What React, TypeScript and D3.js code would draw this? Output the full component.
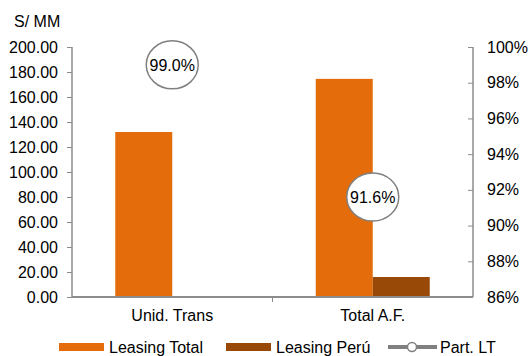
import React, { useRef, useEffect } from 'react';
import { select, scaleLinear, scaleBand, axisLeft, axisRight } from 'd3';

const categories = ['Unid. Trans', 'Total A.F.'];
const leasingTotal = [132, 174.5];
const leasingPeru = [0.8, 16];
const partLT = [99.0, 91.6];
const leftTicks = [0, 20, 40, 60, 80, 100, 120, 140, 160, 180, 200];
const rightTicks = [86, 88, 90, 92, 94, 96, 98, 100];

const W = 529;
const H = 356;
const margin = { top: 47, right: 56, bottom: 59, left: 72 };
const font = '"Liberation Sans", Arial, sans-serif';
const fs = 16;
const axisColor = '#8c8c8c';

const App = () => {
  const svgRef = useRef(null);

  useEffect(() => {
    const svgEl = select(svgRef.current);
    svgEl.selectAll('*').remove();

    const innerW = W - margin.left - margin.right;
    const innerH = H - margin.top - margin.bottom;
    const svg = svgEl.append('g').attr('transform', `translate(${margin.left}, ${margin.top})`);

    const x = scaleBand().domain(categories).range([0, innerW]);
    const yLeft = scaleLinear().domain([0, 200]).range([innerH, 0]);
    const yRight = scaleLinear().domain([86, 100]).range([innerH, 0]);
    const barW = 57;

    // bars
    categories.forEach((c, i) => {
      const cx = x(c) + x.bandwidth() / 2;
      svg.append('rect')
        .attr('x', cx - barW).attr('width', barW)
        .attr('y', yLeft(leasingTotal[i])).attr('height', innerH - yLeft(leasingTotal[i]))
        .attr('fill', '#e46c0a');
      svg.append('rect')
        .attr('x', cx).attr('width', barW)
        .attr('y', yLeft(leasingPeru[i])).attr('height', innerH - yLeft(leasingPeru[i]))
        .attr('fill', '#984807');
    });

    // left axis
    const leftG = svg.append('g').call(axisLeft(yLeft).tickValues(leftTicks).tickSize(5).tickPadding(9).tickFormat(d => d.toFixed(2)));
    leftG.select('.domain').attr('stroke', axisColor).attr('stroke-width', 1.5).attr('d', `M0,0V${innerH}`);
    leftG.selectAll('line').attr('stroke', axisColor);
    leftG.selectAll('text').attr('font-family', font).attr('font-size', fs).attr('fill', '#000');

    // right axis (ticks inward)
    const rightG = svg.append('g').attr('transform', `translate(${innerW},0)`)
      .call(axisRight(yRight).tickValues(rightTicks).tickSize(-5).tickPadding(14).tickFormat(d => `${d}%`));
    rightG.select('.domain').attr('stroke', axisColor).attr('stroke-width', 1.5).attr('d', `M0,0V${innerH}`);
    rightG.selectAll('line').attr('stroke', axisColor);
    rightG.selectAll('text').attr('font-family', font).attr('font-size', fs).attr('fill', '#000');

    // bottom axis
    svg.append('line').attr('x1', 0).attr('x2', innerW).attr('y1', innerH).attr('y2', innerH)
      .attr('stroke', axisColor).attr('stroke-width', 2);
    svg.append('line').attr('x1', innerW / 2).attr('x2', innerW / 2).attr('y1', innerH).attr('y2', innerH + 5)
      .attr('stroke', axisColor);
    categories.forEach(c => {
      svg.append('text').attr('x', x(c) + x.bandwidth() / 2).attr('y', innerH + 24)
        .attr('text-anchor', 'middle').attr('font-family', font).attr('font-size', fs).text(c);
    });

    // Part. LT markers with labels
    categories.forEach((c, i) => {
      const cx = x(c) + x.bandwidth() / 2;
      const cy = yRight(partLT[i]);
      svg.append('ellipse').attr('cx', cx).attr('cy', cy).attr('rx', 26).attr('ry', 24)
        .attr('fill', '#fff').attr('stroke', '#808080').attr('stroke-width', 1.5);
      svg.append('text').attr('x', cx).attr('y', cy + 6).attr('text-anchor', 'middle')
        .attr('font-family', font).attr('font-size', fs).text(`${partLT[i].toFixed(1)}%`);
    });

    // unit label
    svgEl.append('text').attr('x', 14).attr('y', 27).attr('font-family', font).attr('font-size', fs).text('S/ MM');

    // legend
    const lg = svgEl.append('g').attr('transform', 'translate(0, 347)');
    lg.append('rect').attr('x', 59).attr('y', -4).attr('width', 45).attr('height', 8).attr('fill', '#e46c0a');
    lg.append('text').attr('x', 109).attr('y', 6).attr('font-family', font).attr('font-size', fs).text('Leasing Total');
    lg.append('rect').attr('x', 226).attr('y', -4).attr('width', 45).attr('height', 8).attr('fill', '#984807');
    lg.append('text').attr('x', 276).attr('y', 6).attr('font-family', font).attr('font-size', fs).text('Leasing Perú');
    lg.append('line').attr('x1', 388).attr('x2', 437).attr('y1', 0).attr('y2', 0).attr('stroke', '#808080').attr('stroke-width', 4);
    lg.append('circle').attr('cx', 412).attr('cy', 0).attr('r', 4.5).attr('fill', '#fff').attr('stroke', '#808080').attr('stroke-width', 1.5);
    lg.append('text').attr('x', 440).attr('y', 6).attr('font-family', font).attr('font-size', fs).text('Part. LT');
  }, []);

  return (
    <div style={{ position: 'absolute', left: 0, top: 0 }}>
      <svg ref={svgRef} width={W} height={H} style={{ display: 'block', background: '#fff' }}></svg>
    </div>
  );
};

export default App;
